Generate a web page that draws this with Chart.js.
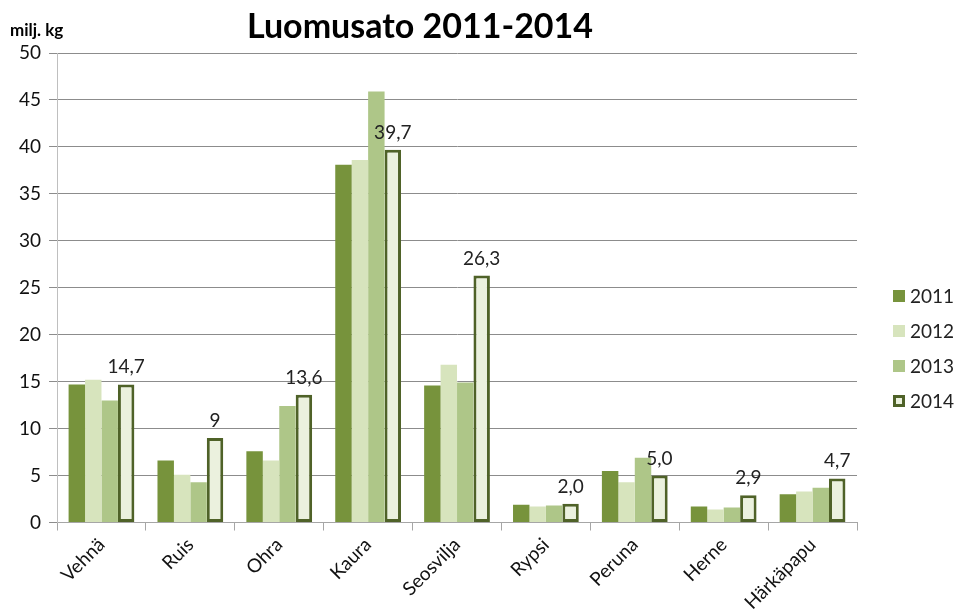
<!DOCTYPE html>
<html>
<head>
<meta charset="utf-8">
<script src="https://cdn.jsdelivr.net/npm/chart.js@4/dist/chart.umd.min.js"></script>
<style>
  html, body { margin: 0; padding: 0; background: #fff; }
  #wrap { width: 956px; height: 610px; position: relative; }
</style>
</head>
<body>
<div id="wrap"><canvas id="chart"></canvas></div>
<script>
// datos (milj. kg)
const categories = ['Vehnä', 'Ruis', 'Ohra', 'Kaura', 'Seosvilja', 'Rypsi', 'Peruna', 'Herne', 'Härkäpapu'];
const years = ['2011', '2012', '2013', '2014'];
const values2011 = [14.7, 6.6, 7.6, 38.1, 14.6, 1.9, 5.5, 1.7, 3.0];
const values2012 = [15.2, 5.1, 6.6, 38.6, 16.8, 1.7, 4.3, 1.4, 3.3];
const values2013 = [13.0, 4.3, 12.4, 45.9, 14.9, 1.8, 6.9, 1.6, 3.7];
const values2014 = [14.7, 9.0, 13.6, 39.7, 26.3, 2.0, 5.0, 2.9, 4.7];
const labels2014 = ['14,7', '9', '13,6', '39,7', '26,3', '2,0', '5,0', '2,9', '4,7'];
const yMax = 50;
const yStep = 5;

const colors = ['#77933c', '#d7e4bd', '#aec688', '#ebf1de'];
const border2014 = '#4f6228';
const font = 'Lato, "Open Sans", sans-serif';

// titulo, unidad, leyenda y etiquetas de la serie 2014
const extras = {
  id: 'extras',
  afterDraw(chart) {
    const ctx = chart.ctx;
    ctx.save();
    ctx.fillStyle = '#000';
    ctx.textBaseline = 'middle';
    ctx.textAlign = 'center';
    ctx.font = 'bold 34px ' + font;
    ctx.fillText('Luomusato 2011-2014', 420, 27);
    ctx.textAlign = 'left';
    ctx.font = 'bold 17px ' + font;
    ctx.fillText('milj. kg', 10, 31);

    // etiquetas sobre las barras 2014
    ctx.textAlign = 'center';
    ctx.textBaseline = 'alphabetic';
    ctx.font = '19px ' + font;
    ctx.fillStyle = '#222';
    chart.getDatasetMeta(3).data.forEach((bar, i) => {
      ctx.fillText(labels2014[i], bar.x, bar.y - 11);
    });

    // leyenda
    ctx.textBaseline = 'middle';
    ctx.textAlign = 'left';
    ctx.font = '19px ' + font;
    years.forEach((y, i) => {
      const cy = 296 + i * 35;
      if (i === 3) {
        ctx.fillStyle = colors[3];
        ctx.fillRect(893, cy - 6, 12, 12);
        ctx.strokeStyle = border2014;
        ctx.lineWidth = 3;
        ctx.strokeRect(894.5, cy - 4.5, 9, 9);
      } else {
        ctx.fillStyle = colors[i];
        ctx.fillRect(893, cy - 6, 12, 12);
      }
      ctx.fillStyle = '#222';
      ctx.fillText(y, 910, cy + 1);
    });
    ctx.restore();
  }
};

const datasets = [values2011, values2012, values2013, values2014].map((vals, i) => ({
  label: years[i],
  data: vals,
  backgroundColor: colors[i],
  borderColor: i === 3 ? border2014 : colors[i],
  borderWidth: i === 3 ? 3 : 0,
  borderSkipped: false,
  barPercentage: 1.0,
  categoryPercentage: 0.74
}));

new Chart(document.getElementById('chart'), {
  type: 'bar',
  data: { labels: categories, datasets: datasets },
  plugins: [extras],
  options: {
    responsive: true,
    maintainAspectRatio: false,
    animation: false,
    layout: { padding: { top: 53, right: 99, left: 11, bottom: -7 } },
    plugins: {
      legend: { display: false },
      title: { display: false },
      tooltip: { enabled: false }
    },
    scales: {
      x: {
        grid: { offset: true, drawOnChartArea: false, tickLength: 8, color: '#a6a6a6' },
        border: { color: '#a6a6a6' },
        ticks: { color: '#111', maxRotation: 45, minRotation: 45, font: { family: font, size: 19 } }
      },
      y: {
        min: 0,
        max: yMax,
        ticks: { stepSize: yStep, color: '#111', padding: 8, font: { family: font, size: 19 } },
        grid: { color: '#8c8c8c', tickLength: 8 },
        border: { color: '#bfbfbf' }
      }
    }
  }
});
</script>
</body>
</html>
